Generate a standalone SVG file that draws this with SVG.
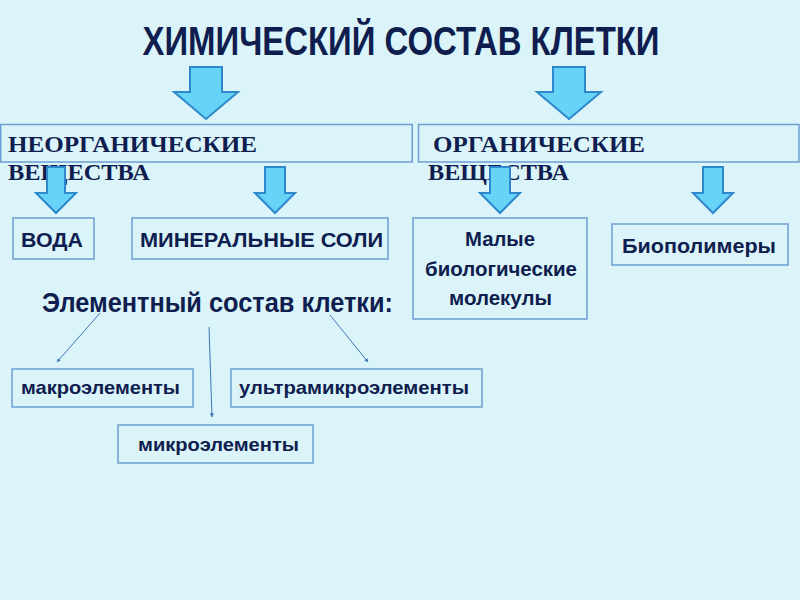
<svg xmlns="http://www.w3.org/2000/svg" width="800" height="600" viewBox="0 0 800 600">
<defs>
<style>
.box{fill:none;stroke:#6d9ed3;stroke-width:1.5}
.t{font-family:"Liberation Sans",Arial,sans-serif;font-weight:bold;fill:#0f1d4f}
.s{font-family:"Liberation Serif","Times New Roman",serif;font-weight:bold;fill:#0f1d4f}
.ba{fill:#66d3f7;stroke:#2f88cc;stroke-width:2;stroke-linejoin:miter}
.ln{stroke:#3f77b8;stroke-width:1;fill:none;marker-end:url(#ah)}
</style>
<marker id="ah" viewBox="0 0 10 10" refX="9" refY="5" markerWidth="4" markerHeight="4" orient="auto">
<path d="M0,0 L10,5 L0,10 z" fill="#3f77b8"/>
</marker>
</defs>
<rect width="800" height="600" fill="#dbf4f9"/>
<text id="title" class="t" x="401" y="55" font-size="40" text-anchor="middle" textLength="517" lengthAdjust="spacingAndGlyphs">ХИМИЧЕСКИЙ СОСТАВ КЛЕТКИ</text>

<g id="inorganic">
<rect class="box" x="0.75" y="124.5" width="411.5" height="37.5"/>
<text class="s" x="8" y="152" font-size="24" textLength="249" lengthAdjust="spacingAndGlyphs">НЕОРГАНИЧЕСКИЕ</text>
<text class="s" x="8" y="180" font-size="24" textLength="142" lengthAdjust="spacingAndGlyphs">ВЕЩЕСТВА</text>
</g>
<g id="organic">
<rect class="box" x="418.5" y="124.5" width="380.5" height="37.5"/>
<text class="s" x="433" y="152" font-size="24" textLength="212" lengthAdjust="spacingAndGlyphs">ОРГАНИЧЕСКИЕ</text>
<text class="s" x="428" y="180" font-size="24" textLength="141" lengthAdjust="spacingAndGlyphs">ВЕЩЕСТВА</text>
</g>
<g id="voda">
<rect class="box" x="13" y="218" width="81" height="41"/>
<text class="t" x="21" y="247" font-size="21" textLength="62" lengthAdjust="spacingAndGlyphs">ВОДА</text>
</g>
<g id="soli">
<rect class="box" x="132" y="218" width="256" height="41"/>
<text class="t" x="140" y="247" font-size="21" textLength="243" lengthAdjust="spacingAndGlyphs">МИНЕРАЛЬНЫЕ СОЛИ</text>
</g>
<g id="malye">
<rect class="box" x="413" y="218" width="174" height="101"/>
<text class="t" x="465" y="246" font-size="21" textLength="70" lengthAdjust="spacingAndGlyphs">Малые</text>
<text class="t" x="425" y="276" font-size="21" textLength="152" lengthAdjust="spacingAndGlyphs">биологические</text>
<text class="t" x="449" y="305" font-size="21" textLength="103" lengthAdjust="spacingAndGlyphs">молекулы</text>
</g>
<g id="biopolimery">
<rect class="box" x="612" y="224" width="176" height="41"/>
<text class="t" x="622" y="253" font-size="21" textLength="154" lengthAdjust="spacingAndGlyphs">Биополимеры</text>
</g>
<g id="elem">
<text class="t" x="42" y="312" font-size="27" textLength="351" lengthAdjust="spacingAndGlyphs">Элементный состав клетки:</text>
</g>
<g id="makro">
<rect class="box" x="12" y="369" width="181" height="38"/>
<text class="t" x="21" y="394" font-size="19" textLength="159" lengthAdjust="spacingAndGlyphs">макроэлементы</text>
</g>
<g id="ultra">
<rect class="box" x="231" y="369" width="251" height="38"/>
<text class="t" x="239" y="394" font-size="19" textLength="230" lengthAdjust="spacingAndGlyphs">ультрамикроэлементы</text>
</g>
<g id="mikro">
<rect class="box" x="118" y="425" width="195" height="38"/>
<text class="t" x="138" y="451" font-size="19" textLength="161" lengthAdjust="spacingAndGlyphs">микроэлементы</text>
</g>

<g id="connectors">
<polygon class="ba" points="190,67 222,67 222,92 238,92 206,119 174,92 190,92"/>
<polygon class="ba" points="553,67 585,67 585,92 601,92 569,119 537,92 553,92"/>
<polygon class="ba" points="47,167 65,167 65,193 76,193 56,213 36,193 47,193"/>
<polygon class="ba" points="265,167 285,167 285,193 295,193 275,213 255,193 265,193"/>
<polygon class="ba" points="490,167 510,167 510,193 520,193 500,213 480,193 490,193"/>
<polygon class="ba" points="703,167 723,167 723,193 733,193 713,213 693,193 703,193"/>
<line class="ln" x1="100" y1="313" x2="57" y2="362"/>
<line class="ln" x1="209" y1="327" x2="212" y2="417"/>
<line class="ln" x1="330" y1="315" x2="368" y2="362"/>
</g>
</svg>
